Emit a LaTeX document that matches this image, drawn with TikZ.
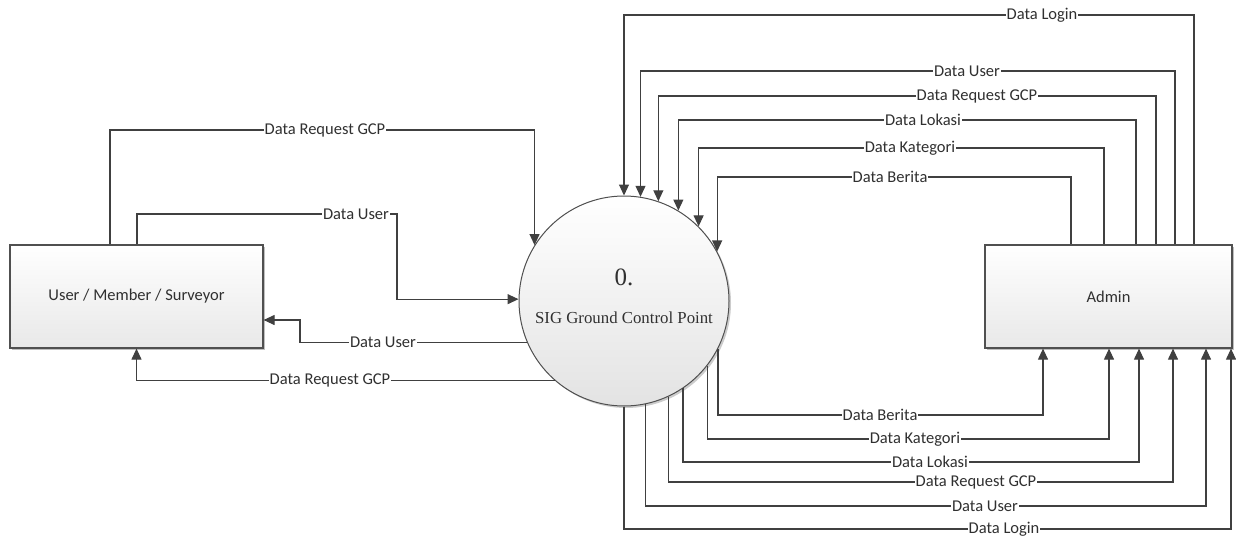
\documentclass[tikz,border=0pt]{standalone}
\usepackage{fontspec}
\setmainfont{Liberation Serif}
\newfontfamily\lblfont{Carlito}
\usetikzlibrary{arrows.meta,shadows}
\definecolor{ln}{HTML}{404040}
\definecolor{bd}{HTML}{505050}
\definecolor{tx}{HTML}{303030}
\begin{document}
\begin{tikzpicture}[x=1pt,y=-1pt,
  flow/.style={draw=ln,line width=1.1pt,-{Triangle[length=11pt,width=10pt]}},
  lbl/.style={fill=white,inner xsep=1pt,inner ysep=0pt,text=tx,font=\lblfont\fontsize{16.5}{19}\selectfont},
  entity/.style={draw=bd,line width=1.2pt,top color=white,bottom color=black!9,
    drop shadow={shadow xshift=2pt,shadow yshift=-2pt,opacity=0.25,fill=black},
    minimum height=103pt,inner sep=0pt,text=tx,font=\lblfont\fontsize{16.5}{19}\selectfont},
  proc/.style={circle,draw=bd,line width=1pt,top color=white,bottom color=black!11,
    drop shadow={shadow xshift=2pt,shadow yshift=-2pt,opacity=0.2,fill=black},
    minimum size=210pt,inner sep=0pt}
]
\useasboundingbox (0,0) rectangle (1236,538);

% nodes
\node[entity,minimum width=253pt] (user) at (136.5,296.5) {User / Member / Surveyor};
\node[entity,minimum width=247pt] (admin) at (1108.5,296.5) {Admin};
\node[proc] (circ) at (624,301) {};
\node[text=tx,font=\fontsize{25}{30}\selectfont] (pnum) at (624,277) {0.};
\node[text=tx,font=\fontsize{16.8}{20}\selectfont] (pname) at (624,318) {SIG Ground Control Point};

% left side helper coordinates
\coordinate (la) at (110,130);
\coordinate (lb) at (137,214);
\coordinate (lc) at (397,214);
\coordinate (ld) at (300,320);

\draw[flow] (user.north -| la) -- (la) -| (circ.148);
\draw[flow] (user.north -| lb) -- (lb) -- (lc) |- (circ.179);
\draw[flow] (circ.203) -| (ld) -- (user.east |- ld);
\draw[flow] (circ.229) -| (user.south);

% right top helper coordinates
\coordinate (t1) at (1071,177);
\coordinate (t2) at (1104,148);
\coordinate (t3) at (1136,120);
\coordinate (t4) at (1156,96);
\coordinate (t5) at (1175,71);
\coordinate (t6) at (1194,15);

\draw[flow] (admin.north -| t1) -- (t1) -| (circ.28);
\draw[flow] (admin.north -| t2) -- (t2) -| (circ.45);
\draw[flow] (admin.north -| t3) -- (t3) -| (circ.59);
\draw[flow] (admin.north -| t4) -- (t4) -| (circ.71);
\draw[flow] (admin.north -| t5) -- (t5) -| (circ.81);
\draw[flow] (admin.north -| t6) -- (t6) -| (circ.90);

% right bottom helper coordinates
\coordinate (b1) at (1043,415);
\coordinate (b2) at (1109,439);
\coordinate (b3) at (1139,462);
\coordinate (b4) at (1173,482);
\coordinate (b5) at (1206,506);
\coordinate (b6) at (1231,529);

\draw[flow] (circ.-27) |- (b1) -- (admin.south -| b1);
\draw[flow] (circ.-38) |- (b2) -- (admin.south -| b2);
\draw[flow] (circ.-56) |- (b3) -- (admin.south -| b3);
\draw[flow] (circ.-65) |- (b4) -- (admin.south -| b4);
\draw[flow] (circ.-78) |- (b5) -- (admin.south -| b5);
\draw[flow] (circ.-90) |- (b6) -- (admin.south -| b6);

% labels
\node[lbl] (l1) at (325,130) {Data Request GCP};
\node[lbl] (l2) at (356,214) {Data User};
\node[lbl] (l3) at (383,342) {Data User};
\node[lbl] (l4) at (330,380.6) {Data Request GCP};

\node[lbl] (r1) at (1042,15) {Data Login};
\node[lbl] (r2) at (967,71) {Data User};
\node[lbl] (r3) at (977,96) {Data Request GCP};
\node[lbl] (r4) at (923,120) {Data Lokasi};
\node[lbl] (r5) at (910,148) {Data Kategori};
\node[lbl] (r6) at (890,177) {Data Berita};

\node[lbl] (s1) at (880,415) {Data Berita};
\node[lbl] (s2) at (915,439) {Data Kategori};
\node[lbl] (s3) at (930,462) {Data Lokasi};
\node[lbl] (s4) at (976,482) {Data Request GCP};
\node[lbl] (s5) at (985,506) {Data User};
\node[lbl] (s6) at (1004,529) {Data Login};
\end{tikzpicture}
\end{document}
